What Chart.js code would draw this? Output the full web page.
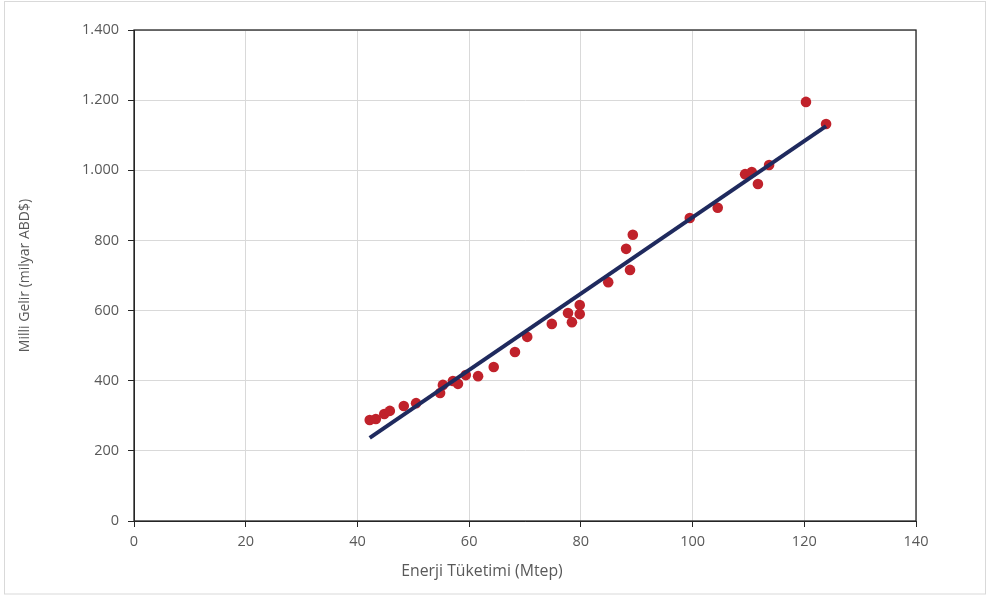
<!DOCTYPE html>
<html>
<head>
<meta charset="utf-8">
<script src="https://cdn.jsdelivr.net/npm/chart.js@4"></script>
<style>
  html, body { margin: 0; padding: 0; background: #fff; }
  #wrap { width: 992px; height: 599px; position: relative; }
</style>
</head>
<body>
<div id="wrap"><canvas id="myChart" width="992" height="599"></canvas></div>
<script>
// energy consumption (Mtep) vs national income (billion USD)
const energy = [42.2, 43.3, 44.8, 45.8, 48.3, 50.5, 54.8, 55.3, 57.1, 58.0, 59.4, 61.6, 64.4, 68.2,
  70.4, 74.8, 77.7, 78.4, 79.8, 79.8, 84.9, 88.1, 88.8, 89.3, 99.5, 104.5, 109.4, 110.6, 111.7, 113.7,
  120.3, 123.9];
const income = [288, 291, 305, 314, 328, 336, 365, 388, 399, 391, 416, 413, 439, 482,
  525, 562, 593, 567, 616, 590, 681, 776, 716, 816, 864, 893, 989, 995, 961, 1015,
  1195, 1132];

// trend line ends
const trendX = [42.2, 123.9];
const trendY = [237, 1126];

const xTicks = [0, 20, 40, 60, 80, 100, 120, 140];
const xTitle = 'Enerji Tüketimi (Mtep)';
const yTitle = 'Milli Gelir (milyar ABD$)';

const textColor = '#595959';
const font = { family: 'Open Sans', size: 14.5 };

const ctx = document.getElementById('myChart').getContext('2d');

const framePlugin = {
  id: 'frame',
  beforeDraw(chart) {
    const c = chart.ctx;
    c.save();
    c.fillStyle = '#fff';
    c.fillRect(0, 0, chart.width, chart.height);
    c.strokeStyle = '#d9d9d9';
    c.lineWidth = 1;
    c.strokeRect(4.5, 1.5, 981, 592.5);
    c.restore();
  },
  beforeDatasetsDraw(chart) {
    const a = chart.chartArea;
    const c = chart.ctx;
    c.save();
    c.strokeStyle = '#262626';
    c.lineWidth = 1.3;
    c.strokeRect(a.left, a.top, a.right - a.left, a.bottom - a.top);
    c.restore();
  },
  afterDraw(chart) {
    const c = chart.ctx;
    c.save();
    c.fillStyle = textColor;
    c.font = '15.8px "Open Sans"';
    c.textAlign = 'center';
    c.textBaseline = 'middle';
    c.fillText(xTitle, 482, 571);
    c.restore();
  }
};

const myChart = new Chart(ctx, {
  type: 'scatter',
  data: {
    datasets: [{
      type: 'line',
      label: 'Trend',
      data: trendX.map((x, i) => ({ x: x, y: trendY[i] })),
      borderColor: '#1f2a5e',
      borderWidth: 4,
      pointRadius: 0,
      fill: false,
      order: 0
    }, {
      label: 'Milli Gelir',
      data: energy.map((x, i) => ({ x: x, y: income[i] })),
      backgroundColor: '#c0222b',
      borderColor: '#c0222b',
      pointRadius: 5.3,
      pointBorderWidth: 0,
      order: 1
    }]
  },
  options: {
    responsive: false,
    animation: false,
    layout: { padding: { left: 0, top: 30, right: 76, bottom: 0 } },
    plugins: {
      legend: { display: false },
      tooltip: { enabled: false }
    },
    scales: {
      x: {
        type: 'linear',
        position: 'bottom',
        min: 0,
        max: 140,
        afterBuildTicks: (scale) => { scale.ticks = xTicks.map(v => ({ value: v })); },
        afterFit: (scale) => { scale.height = 78; },
        grid: { color: '#d9d9d9', tickColor: '#262626', tickLength: 6 },
        border: { color: '#262626', width: 1 },
        ticks: { color: textColor, font: font, padding: 6, maxRotation: 0 }
      },
      y: {
        min: 0,
        max: 1400,
        afterFit: (scale) => { scale.width = 134; },
        grid: { color: '#d9d9d9', tickColor: '#262626', tickLength: 6 },
        border: { color: '#262626', width: 1 },
        ticks: {
          stepSize: 200,
          color: textColor,
          font: font,
          padding: 9,
          callback: (v) => v.toLocaleString('de-DE')
        },
        title: {
          display: true,
          text: yTitle,
          color: textColor,
          font: { family: 'Open Sans', size: 14 },
          padding: { top: 17, bottom: 0 }
        }
      }
    }
  },
  plugins: [framePlugin]
});
</script>
</body>
</html>
